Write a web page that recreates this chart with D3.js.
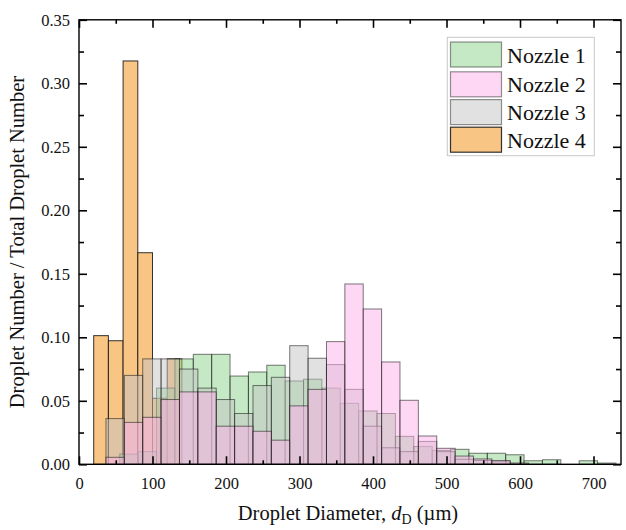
<!DOCTYPE html>
<html>
<head>
<meta charset="utf-8">
<script src="https://cdn.jsdelivr.net/npm/d3@7"></script>
<style>
  html, body { margin: 0; padding: 0; background: #fff; }
  svg { display: block; }
  text { font-family: "Liberation Serif", "Times New Roman", serif; fill: #111; }
</style>
</head>
<body>
<svg id="chart" width="626" height="530"></svg>
<script>
// ---------------- data ----------------
const seriesNames = ["Nozzle 1", "Nozzle 2", "Nozzle 3", "Nozzle 4"];
// bin start (µm) and bin width (µm) for each nozzle histogram
const binStarts = [5.5, 11.7, 11.7, 20];
const binWidths = [25, 25, 25, 20];
// fraction of droplets per bin
const nozzle1 = [0, 0, 0.008, 0.010, 0.060, 0.083, 0.0866, 0.0866, 0.0695, 0.0727, 0.078, 0.0656, 0.067,
                 0.060, 0.048, 0.042, 0.040, 0.022, 0.014, 0.011, 0.0118, 0.0087, 0.0087, 0.0075, 0.0028,
                 0.0036, 0, 0.0028, 0.001];
const nozzle2 = [0, 0.0055, 0.033, 0.037, 0.051, 0.057, 0.057, 0.030, 0.030, 0.026, 0.019, 0.046, 0.059,
                 0.0966, 0.142, 0.1223, 0.0806, 0.0504, 0.0223, 0.0126, 0.0065, 0.0042, 0.003, 0.001];
const nozzle3 = [0, 0.036, 0.070, 0.083, 0.083, 0.075, 0.060, 0.051, 0.040, 0.062, 0.0685, 0.0934, 0.0835,
                 0.0785, 0.059, 0.030, 0.013, 0.010, 0.018, 0.010, 0.004, 0.003, 0.002];
const nozzle4 = [0.1013, 0.0973, 0.3176, 0.1666, 0.052, 0.083];
const xTicks = [0, 100, 200, 300, 400, 500, 600, 700];
const xMinorTicks = [50, 150, 250, 350, 450, 550, 650];
const yTicks = [0, 0.05, 0.10, 0.15, 0.20, 0.25, 0.30, 0.35];
const yMinorTicks = [0.025, 0.075, 0.125, 0.175, 0.225, 0.275, 0.325];

// ---------------- styles ----------------
const fills = ["#8cd28c", "#fbb0e8", "#c4c4c4", "#f8c585"];
const fillOpacity = [0.5, 0.5, 0.5, 1];
const seriesData = [nozzle1, nozzle2, nozzle3, nozzle4];
const drawOrder = [3, 0, 2, 1];

const svg = d3.select("#chart");
const L = 79, R = 621, T = 19.8, B = 464.3;
const x = d3.scaleLinear().domain([0, 737.4]).range([L, R]);
const y = d3.scaleLinear().domain([0, 0.35]).range([B, T]);

// bars
drawOrder.forEach(si => {
  const bins = seriesData[si].map((v, i) => ({
    x0: binStarts[si] + i * binWidths[si],
    x1: binStarts[si] + (i + 1) * binWidths[si],
    v: v
  })).filter(d => d.v > 0);
  svg.append("g").selectAll("rect").data(bins).join("rect")
    .attr("x", d => x(d.x0))
    .attr("width", d => x(d.x1) - x(d.x0))
    .attr("y", d => y(d.v))
    .attr("height", d => y(0) - y(d.v))
    .attr("fill", fills[si])
    .attr("fill-opacity", fillOpacity[si])
    .attr("stroke", "#111")
    .attr("stroke-opacity", si === 3 ? 0.85 : 0.55)
    .attr("stroke-width", 1);
});

// axes
function styleAxis(g) {
  g.select(".domain").remove();
  g.selectAll("line").attr("stroke", "#000").attr("stroke-width", 1.6);
  g.selectAll("text").style("font-family", '"Liberation Serif", serif').attr("fill", "#111");
}
svg.append("g").attr("transform", `translate(0,${B})`)
  .call(d3.axisBottom(x).tickValues(xTicks).tickSize(-8).tickPadding(13).tickFormat(d3.format("d")))
  .call(styleAxis).selectAll("text").style("font-size", "16.5px");
svg.append("g").attr("transform", `translate(0,${B})`)
  .call(d3.axisBottom(x).tickValues(xMinorTicks).tickSize(-4).tickFormat(""))
  .call(styleAxis);
svg.append("g").attr("transform", `translate(0,${T})`)
  .call(d3.axisTop(x).tickValues(xTicks).tickSize(-8).tickFormat(""))
  .call(styleAxis);
svg.append("g").attr("transform", `translate(0,${T})`)
  .call(d3.axisTop(x).tickValues(xMinorTicks).tickSize(-4).tickFormat(""))
  .call(styleAxis);
svg.append("g").attr("transform", `translate(${L},0)`)
  .call(d3.axisLeft(y).tickValues(yTicks).tickSize(-8).tickPadding(9).tickFormat(d3.format(".2f")))
  .call(styleAxis).selectAll("text").style("font-size", "16.5px");
svg.append("g").attr("transform", `translate(${L},0)`)
  .call(d3.axisLeft(y).tickValues(yMinorTicks).tickSize(-5).tickFormat(""))
  .call(styleAxis);
svg.append("g").attr("transform", `translate(${R},0)`)
  .call(d3.axisRight(y).tickValues(yTicks).tickSize(-8).tickFormat(""))
  .call(styleAxis);
svg.append("g").attr("transform", `translate(${R},0)`)
  .call(d3.axisRight(y).tickValues(yMinorTicks).tickSize(-5).tickFormat(""))
  .call(styleAxis);

// frame
svg.append("rect").attr("x", L).attr("y", T).attr("width", R - L).attr("height", B - T)
  .attr("fill", "none").attr("stroke", "#000").attr("stroke-width", 1.4);

// legend
const lg = svg.append("g");
lg.append("rect").attr("x", 447.3).attr("y", 37.3).attr("width", 147).attr("height", 118.4)
  .attr("fill", "#fff").attr("stroke", "#c8c8c8").attr("stroke-width", 1);
const rowTop = [42, 71.8, 99.6, 127.2];
seriesNames.forEach((name, i) => {
  lg.append("rect").attr("x", 450.5).attr("y", rowTop[i]).attr("width", 51).attr("height", 25)
    .attr("fill", fills[i]).attr("fill-opacity", fillOpacity[i])
    .attr("stroke", "#111").attr("stroke-opacity", i === 3 ? 0.85 : 0.45).attr("stroke-width", 1.2);
  lg.append("text").attr("x", 507).attr("y", rowTop[i] + 20.5)
    .style("font-size", "22px").text(name);
});

// axis titles
svg.append("text")
  .attr("transform", "translate(24,242) rotate(-90)")
  .attr("text-anchor", "middle")
  .style("font-size", "20.5px")
  .text("Droplet Number / Total Droplet Number");

const xt = svg.append("text").attr("x", 348).attr("y", 520)
  .attr("text-anchor", "middle").style("font-size", "20.5px");
xt.append("tspan").text("Droplet Diameter, ");
xt.append("tspan").style("font-style", "italic").text("d");
xt.append("tspan").attr("dy", 4).style("font-size", "14px").text("D");
xt.append("tspan").attr("dy", -4).text(" (µm)");
</script>
</body>
</html>
